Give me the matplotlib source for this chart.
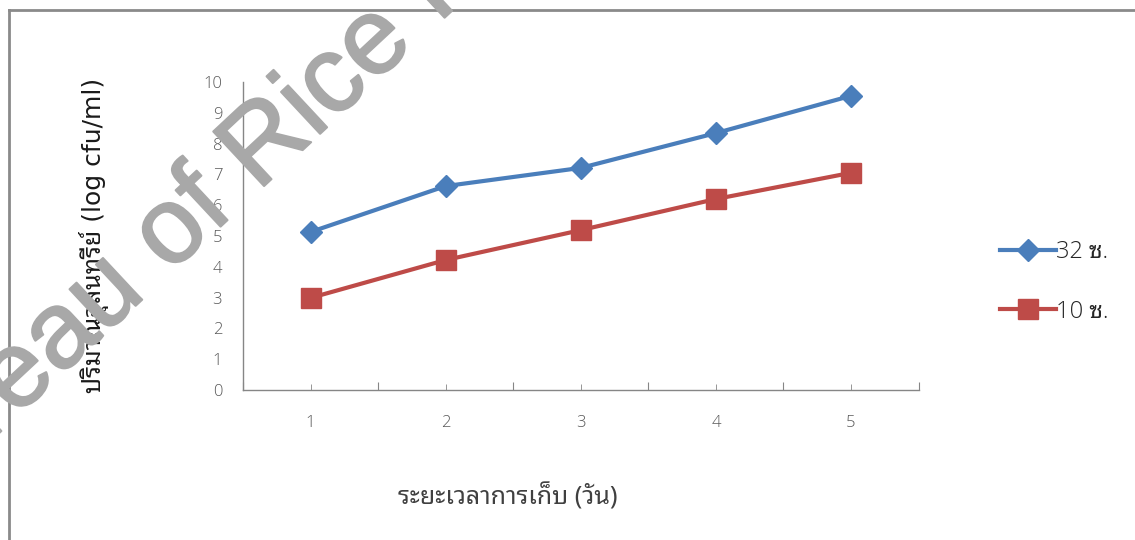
import matplotlib
matplotlib.use("Agg")
import matplotlib.pyplot as plt
import matplotlib.patheffects as pe
from matplotlib.lines import Line2D

days = [1, 2, 3, 4, 5]
temp_32 = [5.13, 6.62, 7.21, 8.34, 9.55]
temp_10 = [2.99, 4.22, 5.19, 6.20, 7.05]
series_names = ["32 ซ.", "10 ซ."]
y_ticks = list(range(0, 11))
thai = ["Noto Sans Thai Looped", "DejaVu Sans"]

fig = plt.figure(figsize=(11.35, 5.4), dpi=100)
ax = fig.add_axes([0.2141, 0.2778, 0.5952, 0.5704])

ax.plot(days, temp_32, color="#4A7EBB", lw=3, marker="D", ms=11, label=series_names[0])
ax.plot(days, temp_10, color="#BE4B48", lw=3, marker="s", ms=15, label=series_names[1])

ax.set_xlim(0.5, 5.5)
ax.set_ylim(0, 10)
ax.set_yticks(y_ticks)
ax.set_xticks([d + 0.5 for d in [0] + days])
ax.set_xticklabels([])
ax.set_xticks(days, minor=True)
ax.set_xticklabels([str(d) for d in days], minor=True)

for s in ["top", "right"]:
    ax.spines[s].set_visible(False)
for s in ["left", "bottom"]:
    ax.spines[s].set_color("#868686")
    ax.spines[s].set_linewidth(1)

ax.tick_params(axis="y", length=0, pad=15, labelsize=12, labelcolor="#595959")
ax.tick_params(axis="x", which="major", direction="in", length=6, color="#868686")
ax.tick_params(axis="x", which="minor", direction="in", length=4, color="#868686",
               pad=18, labelsize=12, labelcolor="#595959")
for lab in ax.get_yticklabels() + ax.get_xticklabels(minor=True):
    lab.set_family("Open Sans")
    lab.set_fontweight("light")

fig.text(94 / 1135, 1 - 235 / 540, "ปริมาณจุลินทรีย์ (log cfu/ml)", rotation=90,
         ha="center", va="center", fontsize=18, family=["DejaVu Sans", "Noto Sans Thai Looped"],
         color="#1a1a1a")
fig.text(508 / 1135, 1 - 497 / 540, "ระยะเวลาการเก็บ (วัน)", ha="center", va="center",
         fontsize=18, family=thai, color="#404040", fontweight="light")

leg = ax.legend(loc="center left", bbox_to_anchor=(988 / 1135, 1 - 282 / 540),
                bbox_transform=fig.transFigure, frameon=False, handlelength=2.4,
                handletextpad=0.0, labelspacing=1.5, borderpad=0,
                prop={"family": ["Open Sans", "Noto Sans Thai Looped"], "size": 17,
                      "weight": "light"})
for t in leg.get_texts():
    t.set_color("#262626")

# frame lines (top and left only)
fig.add_artist(Line2D([9 / 1135, 1.0], [1 - 10 / 540] * 2, color="#8a8a8a", lw=2,
                      transform=fig.transFigure))
fig.add_artist(Line2D([9 / 1135] * 2, [0, 1 - 10 / 540], color="#8a8a8a", lw=2,
                      transform=fig.transFigure))

# watermark
fig.text(-108 / 1135, 1 - 533 / 540, "Bureau of Rice Research and Development",
         rotation=43, rotation_mode="anchor", ha="left", va="baseline",
         fontsize=78, family="Liberation Sans", color="#a8a8a8", zorder=10,
         path_effects=[pe.withStroke(linewidth=1.5, foreground="#a8a8a8")])

fig.savefig("out.png")
